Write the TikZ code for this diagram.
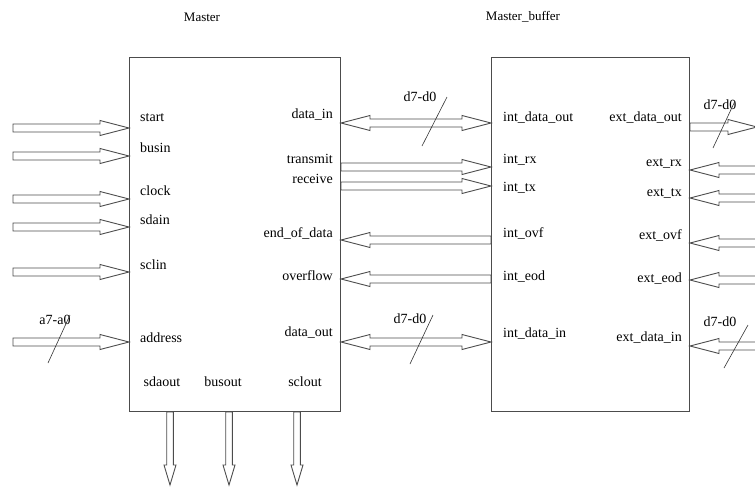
\documentclass[tikz,border=0pt]{standalone}
\usepackage{fontspec}
\setmainfont{Liberation Serif}
\usepackage{tikz}
\usetikzlibrary{calc, positioning}

\newcommand{\shafthw}{4pt}
\newcommand{\headhw}{7.5pt}
\newcommand{\headlen}{29pt}

% hollow bus arrow from #1 to #2
\newcommand{\busarrow}[2]{%
  \path (#1) coordinate (ba-a) (#2) coordinate (ba-b);
  \path ($(ba-b)!\headlen!(ba-a)$) coordinate (ba-c);
  \draw[busline] ($(ba-a)!\shafthw!90:(ba-b)$) -- ($(ba-c)!\shafthw!90:(ba-b)$)
    -- ($(ba-c)!\headhw!90:(ba-b)$) -- (ba-b) -- ($(ba-c)!\headhw!-90:(ba-b)$)
    -- ($(ba-c)!\shafthw!-90:(ba-b)$) -- ($(ba-a)!\shafthw!-90:(ba-b)$) -- cycle;
}
% hollow bus arrow with heads at both ends
\newcommand{\dualarrow}[2]{%
  \path (#1) coordinate (da-a) (#2) coordinate (da-b);
  \path ($(da-a)!\headlen!(da-b)$) coordinate (da-c) ($(da-b)!\headlen!(da-a)$) coordinate (da-d);
  \draw[busline] (da-a) -- ($(da-c)!\headhw!90:(da-b)$) -- ($(da-c)!\shafthw!90:(da-b)$)
    -- ($(da-d)!\shafthw!90:(da-b)$) -- ($(da-d)!\headhw!90:(da-b)$) -- (da-b)
    -- ($(da-d)!\headhw!-90:(da-b)$) -- ($(da-d)!\shafthw!-90:(da-b)$)
    -- ($(da-c)!\shafthw!-90:(da-b)$) -- ($(da-c)!\headhw!-90:(da-b)$) -- cycle;
}

\begin{document}
\begin{tikzpicture}[
  x=1pt, y=-1pt,
  font=\fontsize{14}{16}\selectfont,
  box/.style={rectangle, draw=black!70, line width=1pt, inner sep=0pt, anchor=north west},
  busline/.style={draw=black!70, line width=0.9pt, line join=miter},
  slash/.style={draw=black!80, line width=0.6pt},
  portw/.style={anchor=west, inner sep=0pt},
  porte/.style={anchor=east, inner sep=0pt},
  portc/.style={inner sep=0pt},
  title/.style={inner sep=0pt, font=\fontsize{13}{15}\selectfont}
]
\useasboundingbox (0,0) rectangle (755,488);

% Blocks
\node[box, minimum width=211pt, minimum height=354pt] (master) at (129,57) {};
\node[box, minimum width=198pt, minimum height=354pt] (buffer) at (491,57) {};
\node[title] (mastertitle) at (202,17) {Master};
\node[title] (buffertitle) at (523,17) {Master\_buffer};

% Master ports
\node[portw] (start) at (140,118) {start};
\node[portw] (busin) at (140,148) {busin};
\node[portw] (clock) at (140,191) {clock};
\node[portw] (sdain) at (140,220) {sdain};
\node[portw] (sclin) at (140,265) {sclin};
\node[portw] (address) at (140,338) {address};
\node[porte] (datain) at (333,115) {data\_in};
\node[porte] (transmit) at (333,159) {transmit};
\node[porte] (receive) at (333,179) {receive};
\node[porte] (endofdata) at (333,233) {end\_of\_data};
\node[porte] (overflow) at (333,276) {overflow};
\node[porte] (dataout) at (333,333) {data\_out};
\node[portc] (sdaout) at (162,382) {sdaout};
\node[portc] (busout) at (223,382) {busout};
\node[portc] (sclout) at (305,382) {sclout};

% Master_buffer ports
\node[portw] (intdataout) at (503,118) {int\_data\_out};
\node[portw] (intrx) at (503,160) {int\_rx};
\node[portw] (inttx) at (503,188) {int\_tx};
\node[portw] (intovf) at (503,233) {int\_ovf};
\node[portw] (inteod) at (503,277) {int\_eod};
\node[portw] (intdatain) at (503,334) {int\_data\_in};
\node[porte] (extdataout) at (682,118) {ext\_data\_out};
\node[porte] (extrx) at (682,163) {ext\_rx};
\node[porte] (exttx) at (682,193) {ext\_tx};
\node[porte] (extovf) at (682,235) {ext\_ovf};
\node[porte] (exteod) at (682,279) {ext\_eod};
\node[porte] (extdatain) at (682,338) {ext\_data\_in};

% Pin points on the block edges
\coordinate (m-start) at (master.west |- 0,128);
\coordinate (m-busin) at (master.west |- 0,156);
\coordinate (m-clock) at (master.west |- 0,199);
\coordinate (m-sdain) at (master.west |- 0,227);
\coordinate (m-sclin) at (master.west |- 0,272);
\coordinate (m-address) at (master.west |- 0,342);
\coordinate (m-datain) at (master.east |- 0,123);
\coordinate (m-transmit) at (master.east |- 0,167);
\coordinate (m-receive) at (master.east |- 0,186);
\coordinate (m-endofdata) at (master.east |- 0,240);
\coordinate (m-overflow) at (master.east |- 0,279);
\coordinate (m-dataout) at (master.east |- 0,342);
\coordinate (m-sdaout) at (170,0 |- master.south);
\coordinate (m-busout) at (229,0 |- master.south);
\coordinate (m-sclout) at (297,0 |- master.south);
\coordinate (b-intdataout) at (buffer.west |- m-datain);
\coordinate (b-intrx) at (buffer.west |- m-transmit);
\coordinate (b-inttx) at (buffer.west |- m-receive);
\coordinate (b-intovf) at (buffer.west |- m-endofdata);
\coordinate (b-inteod) at (buffer.west |- m-overflow);
\coordinate (b-intdatain) at (buffer.west |- m-dataout);
\coordinate (b-extdataout) at (buffer.east |- 0,127);
\coordinate (b-extrx) at (buffer.east |- 0,170);
\coordinate (b-exttx) at (buffer.east |- 0,198);
\coordinate (b-extovf) at (buffer.east |- 0,243);
\coordinate (b-exteod) at (buffer.east |- 0,280);
\coordinate (b-extdatain) at (buffer.east |- 0,346);

% Free ends
\coordinate (start-in) at (13,128);
\coordinate (busin-in) at (13,156);
\coordinate (clock-in) at (13,199);
\coordinate (sdain-in) at (13,227);
\coordinate (sclin-in) at (13,272);
\coordinate (address-in) at (13,342);
\coordinate (sdaout-out) at (170,485);
\coordinate (busout-out) at (229,485);
\coordinate (sclout-out) at (297,485);
\coordinate (extdataout-out) at (757,127);
\coordinate (extrx-in) at (760,170);
\coordinate (exttx-in) at (760,198);
\coordinate (extovf-in) at (760,243);
\coordinate (exteod-in) at (760,280);
\coordinate (extdatain-in) at (760,346);

% Inputs of Master
\busarrow{start-in}{m-start}
\busarrow{busin-in}{m-busin}
\busarrow{clock-in}{m-clock}
\busarrow{sdain-in}{m-sdain}
\busarrow{sclin-in}{m-sclin}
\busarrow{address-in}{m-address}

% Outputs of Master
\begin{scope}
  \renewcommand{\shafthw}{3.3pt}
  \renewcommand{\headhw}{6pt}
  \renewcommand{\headlen}{20pt}
  \busarrow{m-sdaout}{sdaout-out}
  \busarrow{m-busout}{busout-out}
  \busarrow{m-sclout}{sclout-out}
\end{scope}

% Master <-> Master_buffer
\dualarrow{m-datain}{b-intdataout}
\busarrow{m-transmit}{b-intrx}
\busarrow{m-receive}{b-inttx}
\busarrow{b-intovf}{m-endofdata}
\busarrow{b-inteod}{m-overflow}
\dualarrow{m-dataout}{b-intdatain}

% External side of Master_buffer
\busarrow{b-extdataout}{extdataout-out}
\busarrow{extrx-in}{b-extrx}
\busarrow{exttx-in}{b-exttx}
\busarrow{extovf-in}{b-extovf}
\busarrow{exteod-in}{b-exteod}
\busarrow{extdatain-in}{b-extdatain}

% Bus widths
\node[portc] (addrwidth) at (55,320) {a7-a0};
\draw[slash] (48,363) -- (70,315);
\node[portc] (inwidth) at (420,97) {d7-d0};
\draw[slash] (422,146) -- (447,97);
\node[portc] (outwidth) at (410,319) {d7-d0};
\draw[slash] (410,364) -- (433,315);
\node[portc] (extoutwidth) at (720,105) {d7-d0};
\draw[slash] (713,148) -- (735,101);
\node[portc] (extinwidth) at (720,322) {d7-d0};
\draw[slash] (724,368) -- (748,325);

\end{tikzpicture}
\end{document}
